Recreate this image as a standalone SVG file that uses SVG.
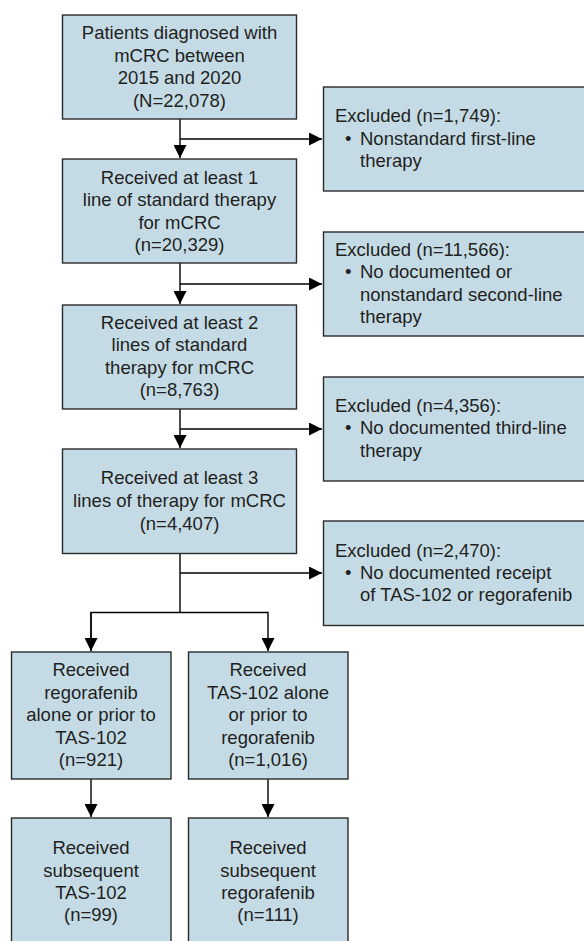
<svg xmlns="http://www.w3.org/2000/svg" width="584" height="941" viewBox="0 0 584 941">
<style>
.box{fill:#c4dbe6;stroke:#2b2b2b;stroke-width:1.4}
.t{font-family:"Liberation Sans",Arial,sans-serif;font-size:18.5px;fill:#231f20}
.c{text-anchor:middle}
.ln{fill:none;stroke:#000;stroke-width:1.4}
</style>
<defs>
<marker id="ah" markerUnits="userSpaceOnUse" markerWidth="13" markerHeight="13" viewBox="0 0 12 12" refX="12" refY="6" orient="auto">
<path d="M0,0 L12,6 L0,12 Z" fill="#000"/>
</marker>
</defs>
<rect width="584" height="941" fill="#fff"/>
<g id="connectors">
<path class="ln" d="M180,119 V158" marker-end="url(#ah)"/>
<path class="ln" d="M180,139 H322" marker-end="url(#ah)"/>
<path class="ln" d="M180,263 V304" marker-end="url(#ah)"/>
<path class="ln" d="M180,284 H322" marker-end="url(#ah)"/>
<path class="ln" d="M180,409 V448" marker-end="url(#ah)"/>
<path class="ln" d="M180,429 H322" marker-end="url(#ah)"/>
<path class="ln" d="M180,554 V612.5"/>
<path class="ln" d="M180,573 H322" marker-end="url(#ah)"/>
<path class="ln" d="M91,651 V612.5 H268 V651" marker-end="url(#ah)"/>
<path class="ln" d="M91,612.5 V651" marker-end="url(#ah)"/>
<path class="ln" d="M91,779 V817" marker-end="url(#ah)"/>
<path class="ln" d="M268,779 V817" marker-end="url(#ah)"/>
</g>
<g id="n1">
<rect class="box" x="62.5" y="15" width="234" height="104"/>
<text class="t c" x="179.5" y="39">Patients diagnosed with</text>
<text class="t c" x="179.5" y="61.5">mCRC between</text>
<text class="t c" x="179.5" y="84">2015 and 2020</text>
<text class="t c" x="179.5" y="106.5">(N=22,078)</text>
</g>
<g id="n2">
<rect class="box" x="62.5" y="159" width="234" height="104"/>
<text class="t c" x="179.5" y="183.5">Received at least 1</text>
<text class="t c" x="179.5" y="206">line of standard therapy</text>
<text class="t c" x="179.5" y="228.5">for mCRC</text>
<text class="t c" x="179.5" y="251">(n=20,329)</text>
</g>
<g id="n3">
<rect class="box" x="62.5" y="305" width="234" height="104"/>
<text class="t c" x="179.5" y="328.5">Received at least 2</text>
<text class="t c" x="179.5" y="351">lines of standard</text>
<text class="t c" x="179.5" y="373.5">therapy for mCRC</text>
<text class="t c" x="179.5" y="396">(n=8,763)</text>
</g>
<g id="n4">
<rect class="box" x="62.5" y="449" width="234" height="104.5"/>
<text class="t c" x="179.5" y="484">Received at least 3</text>
<text class="t c" x="179.5" y="507">lines of therapy for mCRC</text>
<text class="t c" x="179.5" y="529.5">(n=4,407)</text>
</g>
<g id="e1">
<rect class="box" x="323.5" y="87" width="270" height="104"/>
<text class="t" x="335" y="121.5">Excluded (n=1,749):</text>
<text class="t" x="345" y="144.5">•</text>
<text class="t" x="360" y="144.5">Nonstandard first-line</text>
<text class="t" x="360" y="167">therapy</text>
</g>
<g id="e2">
<rect class="box" x="323.5" y="232" width="270" height="104"/>
<text class="t" x="335" y="255.5">Excluded (n=11,566):</text>
<text class="t" x="345" y="278">•</text>
<text class="t" x="360" y="278">No documented or</text>
<text class="t" x="360" y="300.5">nonstandard second-line</text>
<text class="t" x="360" y="323">therapy</text>
</g>
<g id="e3">
<rect class="box" x="323.5" y="377" width="270" height="104"/>
<text class="t" x="335" y="411.5">Excluded (n=4,356):</text>
<text class="t" x="345" y="434">•</text>
<text class="t" x="360" y="434">No documented third-line</text>
<text class="t" x="360" y="456.5">therapy</text>
</g>
<g id="e4">
<rect class="box" x="323.5" y="521" width="270" height="104.5"/>
<text class="t" x="335" y="556.5">Excluded (n=2,470):</text>
<text class="t" x="345" y="579">•</text>
<text class="t" x="360" y="579">No documented receipt</text>
<text class="t" x="360" y="601">of TAS-102 or regorafenib</text>
</g>
<g id="n5">
<rect class="box" x="11.5" y="652" width="159.5" height="127"/>
<text class="t c" x="91" y="676">Received</text>
<text class="t c" x="91" y="698.5">regorafenib</text>
<text class="t c" x="91" y="721">alone or prior to</text>
<text class="t c" x="91" y="743.5">TAS-102</text>
<text class="t c" x="91" y="766">(n=921)</text>
</g>
<g id="n6">
<rect class="box" x="188.5" y="652" width="159.5" height="127"/>
<text class="t c" x="268" y="676">Received</text>
<text class="t c" x="268" y="698.5">TAS-102 alone</text>
<text class="t c" x="268" y="721">or prior to</text>
<text class="t c" x="268" y="743.5">regorafenib</text>
<text class="t c" x="268" y="766">(n=1,016)</text>
</g>
<g id="n7">
<rect class="box" x="11.5" y="818" width="159.5" height="135"/>
<text class="t c" x="91" y="854">Received</text>
<text class="t c" x="91" y="876.5">subsequent</text>
<text class="t c" x="91" y="899">TAS-102</text>
<text class="t c" x="91" y="921">(n=99)</text>
</g>
<g id="n8">
<rect class="box" x="188.5" y="818" width="159.5" height="135"/>
<text class="t c" x="268" y="854">Received</text>
<text class="t c" x="268" y="876.5">subsequent</text>
<text class="t c" x="268" y="899">regorafenib</text>
<text class="t c" x="268" y="921">(n=111)</text>
</g>
</svg>
